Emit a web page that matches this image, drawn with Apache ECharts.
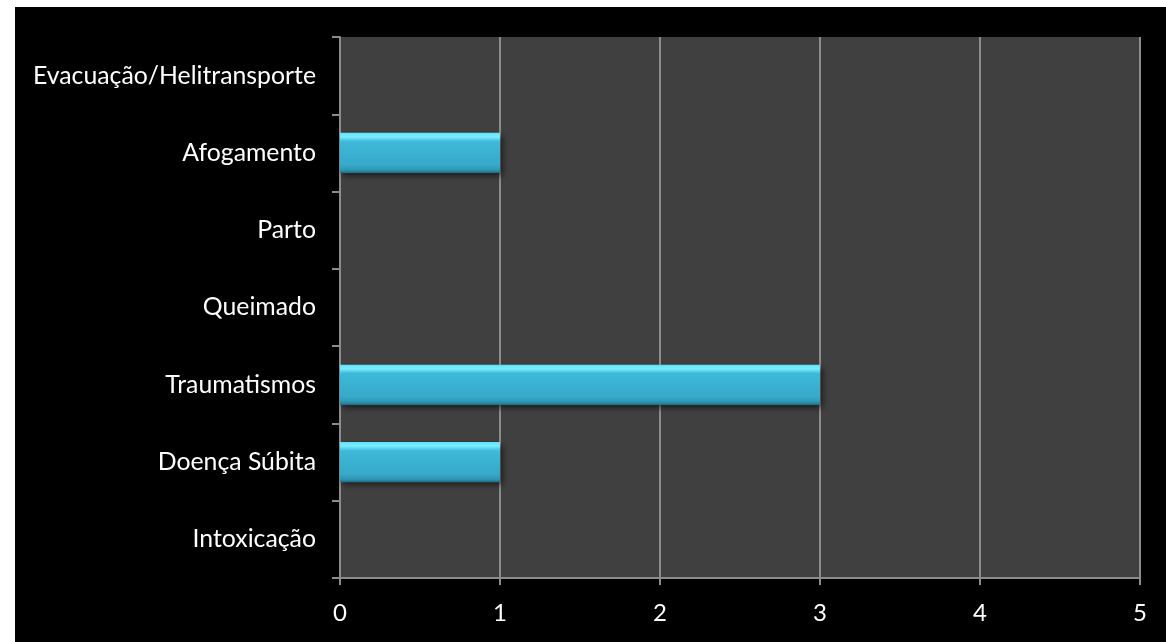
<!DOCTYPE html>
<html><head><meta charset="utf-8">
<script src="https://cdn.jsdelivr.net/npm/echarts@6/dist/echarts.min.js"></script>
<style>html,body{margin:0;padding:0;background:#fff;}#c{position:absolute;left:15px;top:7px;width:1151px;height:635px;background:#000;}</style>
</head><body><div id="c"></div>
<script>
const categories = ['Intoxicação','Doença Súbita','Traumatismos','Queimado','Parto','Afogamento','Evacuação/Helitransporte'];
const values = [0,1,3,0,0,1,0];
const xTicks = [0,1,2,3,4,5];
const chart = echarts.init(document.getElementById('c'));
const font = 'Lato';
chart.setOption({
  backgroundColor:'#000',
  animation:false,
  grid:{left:325,right:26,top:30,bottom:64,show:true,backgroundColor:'#404040',borderWidth:0},
  xAxis:{type:'value',min:xTicks[0],max:xTicks[xTicks.length-1],interval:1,
    axisLine:{show:true,lineStyle:{color:'#8c8c8c',width:2}},
    axisTick:{show:true,length:7,lineStyle:{color:'#8c8c8c',width:2}},
    splitLine:{show:true,lineStyle:{color:'#8c8c8c',width:2}},
    axisLabel:{color:'#fff',fontFamily:font,fontSize:24,margin:23}},
  yAxis:{type:'category',data:categories,
    axisLine:{show:true,lineStyle:{color:'#8c8c8c',width:2}},
    axisTick:{show:true,length:8,lineStyle:{color:'#8c8c8c',width:2}},
    axisLabel:{color:'#fff',fontFamily:font,fontSize:24.8,margin:24}},
  series:[{type:'bar',data:values,barCategoryGap:'48%',
    itemStyle:{color:new echarts.graphic.LinearGradient(0,0,0,1,[
      {offset:0,color:'#5fe3fb'},{offset:0.1,color:'#7aecff'},{offset:0.22,color:'#3eb9d9'},
      {offset:0.8,color:'#37a9c9'},{offset:0.92,color:'#2f97b4'},{offset:1,color:'#1f6f86'}]),
      shadowColor:'rgba(0,0,0,0.55)',shadowBlur:6,shadowOffsetX:3,shadowOffsetY:3}}]
});
</script></body></html>
